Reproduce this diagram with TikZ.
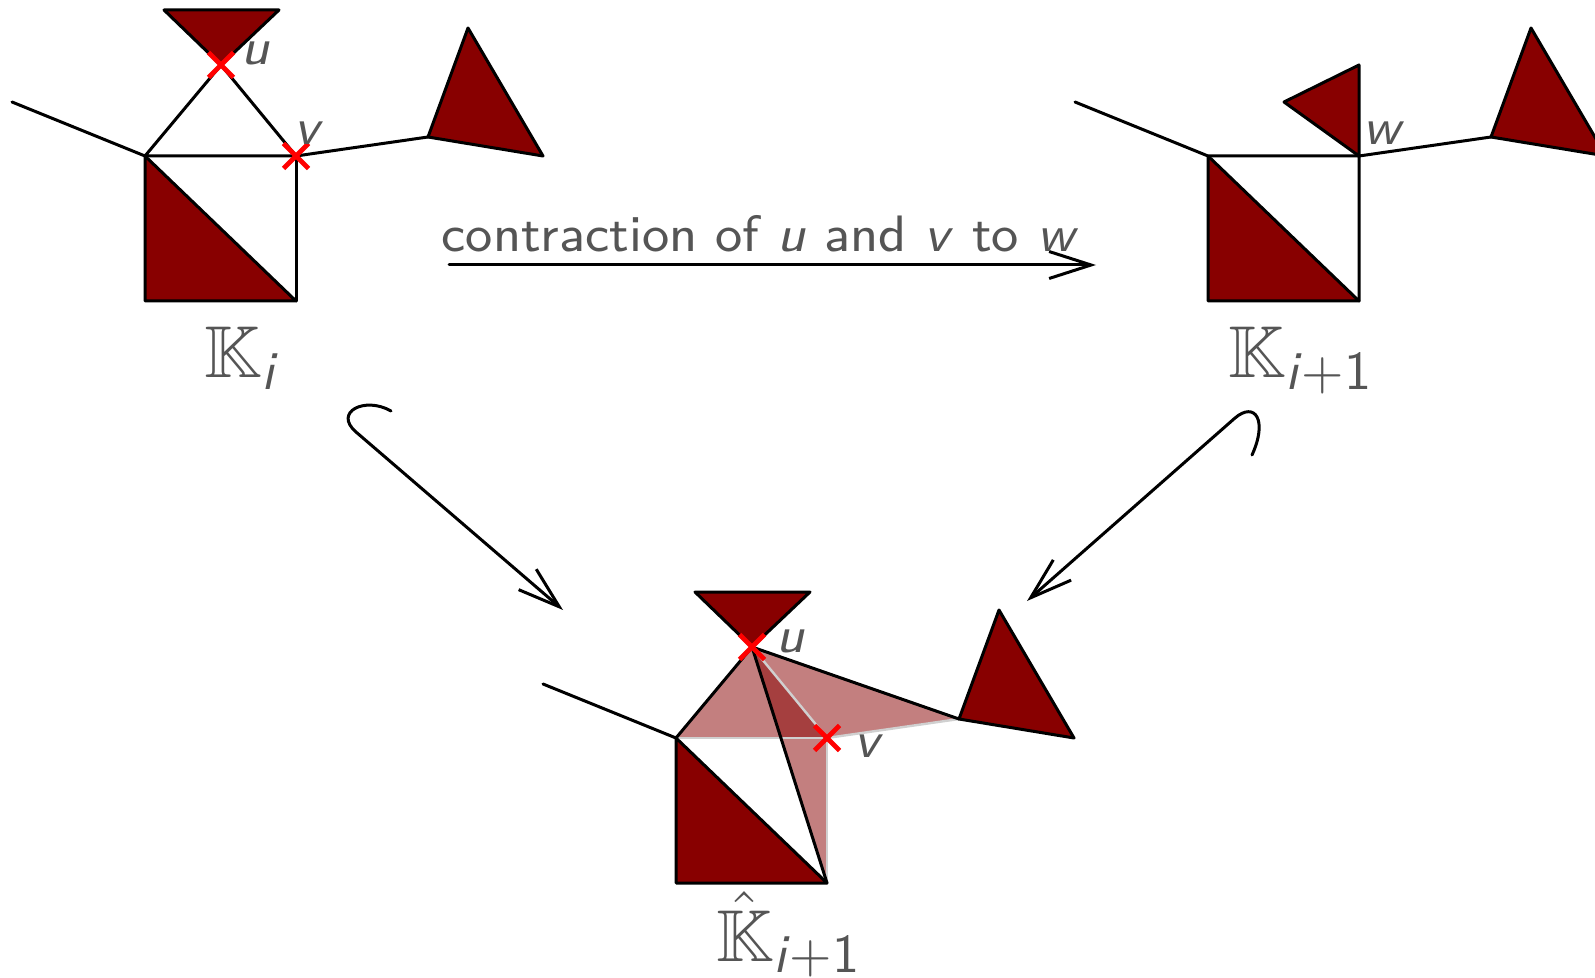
\documentclass[tikz,border=0pt]{standalone}
\usepackage{amsmath}
\usepackage{amssymb}
\usetikzlibrary{arrows.meta}
\definecolor{maroon}{RGB}{136,0,0}
\definecolor{txtgray}{RGB}{85,85,85}
\definecolor{edgegray}{RGB}{208,208,208}
\newcommand\ksub[1]{\mbox{\fontsize{10.7}{12}\selectfont\sffamily #1}}
\tikzset{
  blk/.style={line width=1.5pt, black, line cap=round, line join=round},
  solidface/.style={fill=maroon, draw=black, line width=1.5pt, line join=round},
  ghostface/.style={fill=maroon, fill opacity=0.5, draw=none},
  ghostedge/.style={line width=1.2pt, edgegray},
  vmark/.style={red, line width=2.4pt},
  crossmark/.pic={\draw[vmark] (-12.5,-12.5) -- (12.5,12.5) (-12.5,12.5) -- (12.5,-12.5);},
  lbl/.style={text=txtgray, font=\footnotesize\sffamily\itshape, inner sep=0pt, scale=3.19},
  toplbl/.style={text=txtgray, font=\footnotesize\sffamily, inner sep=0pt, scale=3.2},
  biglbl/.style={text=txtgray, font=\Large, inner sep=0pt, scale=2.55},
  incl/.style={line width=1.5pt, line cap=round, -{Straight Barb[length=21pt, width=13.5pt, line width=1.5pt]}},
}
\begin{document}
\begin{tikzpicture}[x=0.5pt, y=-0.5pt]
\useasboundingbox (0,0) rectangle (1595,978);
\clip (0,0) rectangle (1595,978);

% ---------- left complex K_i ----------
\coordinate (aL) at (12,102);
\coordinate (aA) at (145,156);
\coordinate (aB) at (145,301);
\coordinate (aC) at (296,301);
\coordinate (aV) at (296,156);
\coordinate (aU) at (221,65);
\coordinate (aT1) at (164,10);
\coordinate (aT2) at (279,10);
\coordinate (aR0) at (428,137);
\coordinate (aR1) at (468,28);
\coordinate (aR2) at (543,156);

\draw[blk] (aL) -- (aA) -- (aU) -- (aV) -- (aA);
\draw[blk] (aV) -- (aC);
\draw[blk] (aV) -- (aR0);
\draw[solidface] (aA) -- (aB) -- (aC) -- cycle;
\draw[solidface] (aT1) -- (aT2) -- (aU) -- cycle;
\draw[solidface] (aR0) -- (aR1) -- (aR2) -- cycle;
\pic at (aU) {crossmark};
\pic at (aV) {crossmark};
\node[lbl, anchor=base west] (luA) at (240,65) {u};
\node[lbl, anchor=base west] (lvA) at (293,145) {v};
\node[biglbl, anchor=base west] (kA) at (203,378) {$\mathbb{K}_{\ksub{\textit{i}}}$};

% ---------- right complex K_{i+1} ----------
\coordinate (bL) at (1075,102);
\coordinate (bA) at (1208,156);
\coordinate (bB) at (1208,301);
\coordinate (bC) at (1359,301);
\coordinate (bW) at (1359,156);
\coordinate (bS1) at (1284,102);
\coordinate (bS2) at (1359,65);
\coordinate (bR0) at (1491,137);
\coordinate (bR1) at (1531,28);
\coordinate (bR2) at (1606,156);

\draw[blk] (bL) -- (bA) -- (bW) -- (bC);
\draw[blk] (bW) -- (bR0);
\draw[solidface] (bA) -- (bB) -- (bC) -- cycle;
\draw[solidface] (bS1) -- (bS2) -- (bW) -- cycle;
\draw[solidface] (bR0) -- (bR1) -- (bR2) -- cycle;
\node[lbl, anchor=base west] (lwB) at (1362,145) {w};
\node[biglbl, anchor=base west] (kB) at (1227,378) {$\mathbb{K}_{\ksub{\textit{i}+1}}$};

% ---------- bottom complex hat K_{i+1} ----------
\coordinate (cL) at (543,684);
\coordinate (cA) at (676,738);
\coordinate (cB) at (676,883);
\coordinate (cC) at (827,883);
\coordinate (cV) at (827,738);
\coordinate (cU) at (752,647);
\coordinate (cT1) at (695,592);
\coordinate (cT2) at (810,592);
\coordinate (cR0) at (959,719);
\coordinate (cR1) at (999,610);
\coordinate (cR2) at (1074,738);

\fill[ghostface] (cA) -- (cU) -- (cV) -- cycle;
\fill[ghostface] (cU) -- (cV) -- (cC) -- cycle;
\fill[ghostface] (cU) -- (cR0) -- (cV) -- cycle;
\draw[ghostedge] (cA) -- (cV) -- (cC);
\draw[ghostedge] (cU) -- (cV) -- (cR0);
\draw[solidface] (cA) -- (cB) -- (cC) -- cycle;
\draw[blk] (cL) -- (cA) -- (cU) -- (cC);
\draw[blk] (cU) -- (cR0);
\draw[solidface] (cT1) -- (cT2) -- (cU) -- cycle;
\draw[solidface] (cR0) -- (cR1) -- (cR2) -- cycle;
\pic at (cU) {crossmark};
\pic at (cV) {crossmark};
\node[lbl, anchor=base west] (luC) at (775,652) {u};
\node[lbl, anchor=base west] (lvC) at (853,757) {v};
\node[biglbl, anchor=base west] (kC) at (715,961) {$\hat{\mathbb{K}}_{\ksub{\textit{i}+1}}$};

% ---------- maps ----------
\coordinate (h0) at (449,265);
\coordinate (h1) at (1096,265);
\draw[incl] (h0) -- (h1);
\node[toplbl, anchor=base] (hl) at (760,252) {contraction of \textit{u} and \textit{v} to \textit{w}};

\coordinate (p0) at (391,411);
\coordinate (p1) at (356,432);
\coordinate (p2) at (563,610);
\draw[incl] (p0) .. controls (365,396) and (333,412) .. (p1) -- (p2);

\coordinate (q0) at (1252,455);
\coordinate (q1) at (1235,418);
\coordinate (q2) at (1027,601);
\draw[incl] (q0) .. controls (1268,420) and (1255,401) .. (q1) -- (q2);
\end{tikzpicture}
\end{document}
